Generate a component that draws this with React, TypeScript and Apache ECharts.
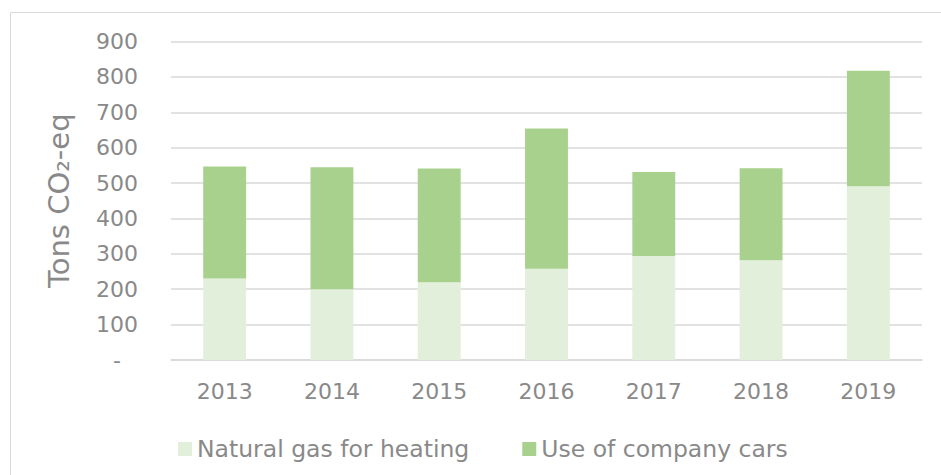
import React, { useEffect, useRef } from "react";
import * as echarts from "echarts";

const years = ["2013", "2014", "2015", "2016", "2017", "2018", "2019"];
const naturalGas = [230, 200, 220, 258, 294, 282, 491];
const companyCars = [317, 345, 321, 396, 237, 260, 326];
const seriesNames = ["Natural gas for heating", "Use of company cars"];
const yTicks = { min: 0, max: 900, interval: 100 };

const FONT = 'Verdana, "DejaVu Sans", sans-serif';
const TEXT = "#898989";
const GRID = "#d9d9d9";

export default function App() {
  const ref = useRef<HTMLDivElement>(null);
  useEffect(() => {
    if (!ref.current) return;
    const chart = echarts.init(ref.current, undefined, { renderer: "svg" });
    chart.setOption({
      animation: false,
      backgroundColor: "#ffffff",
      textStyle: { fontFamily: FONT },
      graphic: [
        {
          type: "rect",
          z: -10,
          shape: { x: 10.5, y: 12.5, width: 1000, height: 1000 },
          style: { fill: "none", stroke: GRID, lineWidth: 1 },
        },
      ],
      grid: { left: 171, right: 19, top: 41.5, bottom: 115, containLabel: false },
      legend: {
        left: 173,
        top: 432,
        padding: 5,
        itemWidth: 14,
        itemHeight: 14,
        itemGap: 53,
        icon: "rect",
        textStyle: { color: TEXT, fontSize: 23.5, fontFamily: FONT },
        data: seriesNames,
      },
      xAxis: {
        type: "category",
        data: years,
        axisLine: { show: true, lineStyle: { color: GRID, width: 1.5 } },
        axisTick: { show: false },
        axisLabel: { color: TEXT, fontSize: 22, fontFamily: FONT, margin: 20 },
      },
      yAxis: {
        type: "value",
        min: yTicks.min,
        max: yTicks.max,
        interval: yTicks.interval,
        name: "Tons CO₂-eq",
        nameLocation: "middle",
        nameGap: 98,
        nameTextStyle: { color: TEXT, fontSize: 29, fontFamily: FONT },
        axisLine: { show: false },
        axisTick: { show: false },
        splitLine: { lineStyle: { color: GRID, width: 1.5 } },
        axisLabel: {
          color: TEXT,
          fontSize: 22,
          fontFamily: FONT,
          margin: 33,
          formatter: (v: number) => (v === 0 ? "{d|-}" : String(v)),
          rich: { d: { color: TEXT, fontSize: 22, fontFamily: FONT, padding: [0, 17, 0, 0] } },
        },
      },
      series: [
        {
          name: seriesNames[0],
          type: "bar",
          stack: "total",
          barWidth: "40%",
          data: naturalGas,
          itemStyle: { color: "#E2EFDA" },
        },
        {
          name: seriesNames[1],
          type: "bar",
          stack: "total",
          barWidth: "40%",
          data: companyCars,
          itemStyle: { color: "#A9D18E" },
        },
      ],
    });
    return () => chart.dispose();
  }, []);
  return (
    <div
      ref={ref}
      style={{ position: "fixed", left: 0, top: 0, width: 941, height: 475 }}
    />
  );
}
